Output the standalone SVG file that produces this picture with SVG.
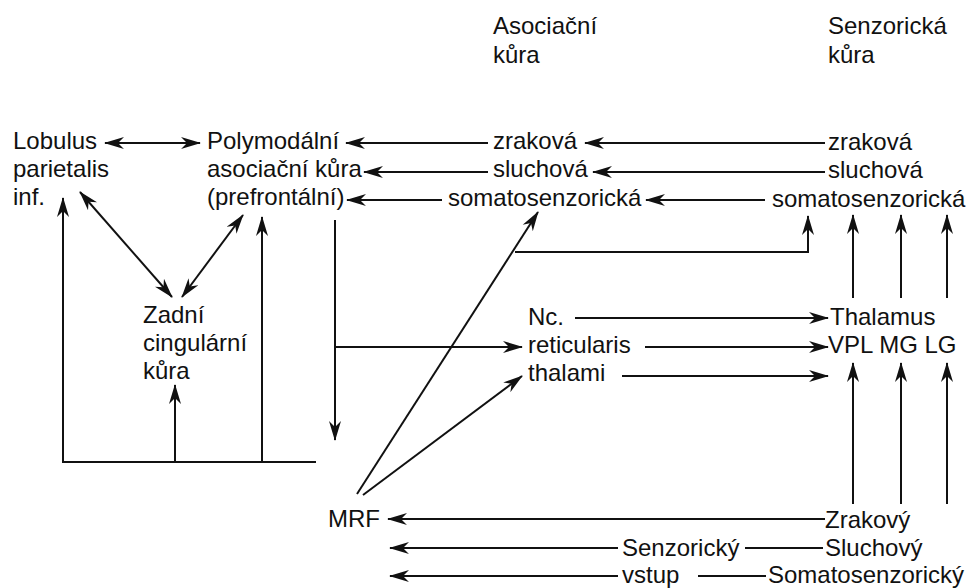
<svg xmlns="http://www.w3.org/2000/svg" width="969" height="588" viewBox="0 0 969 588">
<style>
text{font-family:"Liberation Sans",Arial,sans-serif;font-size:24px;fill:#111}
.c path{fill:none;stroke:#111;stroke-width:2}
.a{marker-end:url(#ah)}
.d{marker-start:url(#ah);marker-end:url(#ah)}
</style>
<defs>
<marker id="ah" viewBox="0 0 20 13" refX="19" refY="6.5" markerWidth="20" markerHeight="13" markerUnits="userSpaceOnUse" orient="auto-start-reverse">
<path d="M0,0.5 L20,6.5 L0,12.5 L6,6.5 Z" fill="#111"/>
</marker>
</defs>
<rect width="969" height="588" fill="#fff"/>
<g id="hdr-asoc"><text x="493" y="34">Asociační</text><text x="493" y="63">kůra</text></g>
<g id="hdr-senz"><text x="828" y="34">Senzorická</text><text x="828" y="63">kůra</text></g>
<g id="lobulus"><text x="13" y="149">Lobulus</text><text x="13" y="177">parietalis</text><text x="13" y="205">inf.</text></g>
<g id="polymodal"><text x="207" y="149">Polymodální</text><text x="207" y="177">asociační kůra</text><text x="207" y="205">(prefrontální)</text></g>
<g id="asoc-zrak"><text x="493" y="149">zraková</text></g>
<g id="asoc-sluch"><text x="493" y="177">sluchová</text></g>
<g id="asoc-soma"><text x="448" y="206">somatosenzorická</text></g>
<g id="senz-zrak"><text x="828" y="150">zraková</text></g>
<g id="senz-sluch"><text x="828" y="178">sluchová</text></g>
<g id="senz-soma"><text x="772" y="207">somatosenzorická</text></g>
<g id="zadni"><text x="143" y="323">Zadní</text><text x="143" y="351">cingulární</text><text x="143" y="379">kůra</text></g>
<g id="nc"><text x="528" y="325">Nc.</text><text x="528" y="353">reticularis</text><text x="528" y="381">thalami</text></g>
<g id="thalamus"><text x="830" y="325">Thalamus</text><text x="828" y="353">VPL MG LG</text></g>
<g id="mrf"><text x="328" y="527">MRF</text></g>
<g id="vstup-label"><text x="622" y="556">Senzorický</text><text x="622" y="583">vstup</text></g>
<g id="zrakovy"><text x="825" y="528">Zrakový</text></g>
<g id="sluchovy"><text x="825" y="556">Sluchový</text></g>
<g id="somatosenzoricky"><text x="768" y="583">Somatosenzorický</text></g>
<g id="connectors" class="c">
<path class="d" d="M105,143 L200,143"/>
<path class="a" d="M488,143 L346,143"/>
<path class="a" d="M488,172 L364,172"/>
<path class="a" d="M442,200 L347,200"/>
<path class="a" d="M825,143 L585,143"/>
<path class="a" d="M825,172 L593,172"/>
<path class="a" d="M765,200 L646,200"/>
<path class="a" d="M515,252 L808,252 L808,216"/>
<path class="a" d="M853,298 L853,215"/>
<path class="a" d="M901,298 L901,215"/>
<path class="a" d="M947,298 L947,215"/>
<path class="a" d="M853,504 L853,363"/>
<path class="a" d="M901,504 L901,363"/>
<path class="a" d="M947,504 L947,363"/>
<path class="a" d="M575,318 L828,318"/>
<path class="a" d="M645,347 L828,347"/>
<path class="a" d="M622,376 L828,376"/>
<path class="a" d="M335,220 L335,440"/>
<path class="a" d="M335,347 L522,347"/>
<path class="a" d="M357,494 L538,212"/>
<path class="a" d="M363,495 L522,376"/>
<path class="a" d="M825,519 L388,519"/>
<path class="a" d="M618,548 L390,548"/>
<path d="M745,548 L823,548"/>
<path class="a" d="M618,576 L390,576"/>
<path d="M698,576 L766,576"/>
<path class="a" d="M63,462 L63,198"/>
<path d="M62,462 L316,462"/>
<path class="a" d="M175,462 L175,385"/>
<path class="a" d="M262,462 L262,217"/>
<path class="d" d="M80,192 L172,297"/>
<path class="d" d="M243,215 L182,297"/>
</g>
</svg>
